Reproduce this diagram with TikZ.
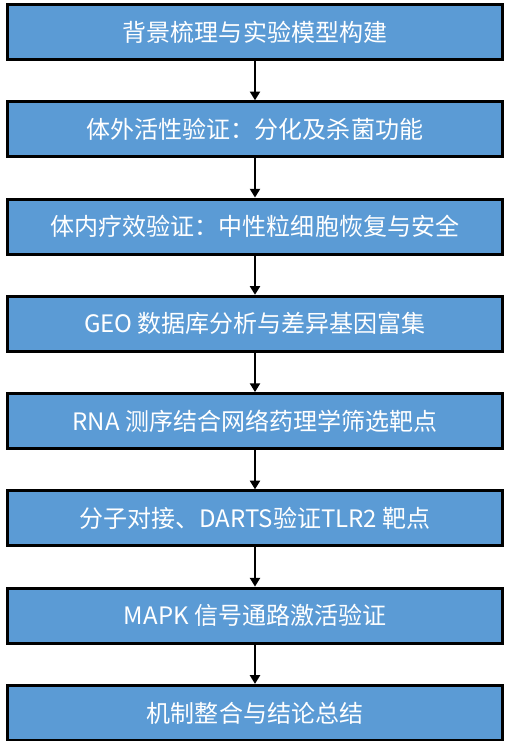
\documentclass[tikz,border=0pt]{standalone}
\usepackage{fontspec}
\newfontfamily\cjk{Noto Sans CJK SC}
\usetikzlibrary{positioning, arrows.meta}
\definecolor{stepblue}{HTML}{5B9BD5}

\begin{document}
\begin{tikzpicture}[
    stepbox/.style={draw=black, line width=2.25pt, fill=stepblue, text=white,
      minimum width=371pt, minimum height=41.25pt, inner sep=0pt,
      font=\cjk\fontsize{18pt}{20pt}\selectfont},
    node distance=29.45pt,
    arr/.style={-{Triangle[width=7.5pt,length=6.5pt]}, line width=1.5pt}
  ]
  \useasboundingbox (-191.25pt,24pt) rectangle (202.5pt,-531.75pt);

  \node[stepbox] (bg) at (0,0) {背景梳理与实验模型构建};
  \node[stepbox, below=of bg] (vitro) {体外活性验证：分化及杀菌功能};
  \node[stepbox, below=of vitro] (vivo) {体内疗效验证：中性粒细胞恢复与安全};
  \node[stepbox, below=of vivo] (geo) {GEO 数据库分析与差异基因富集};
  \node[stepbox, below=of geo] (rna) {RNA 测序结合网络药理学筛选靶点};
  \node[stepbox, below=of rna] (dock) {分子对接、DARTS验证TLR2 靶点};
  \node[stepbox, below=of dock] (mapk) {MAPK 信号通路激活验证};
  \node[stepbox, below=of mapk] (concl) {机制整合与结论总结};

  %\draw[arr] (bg) -- (concl);
  \draw[arr] (bg) -- (vitro);
  \draw[arr] (vitro) -- (vivo);
  \draw[arr] (vivo) -- (geo);
  \draw[arr] (geo) -- (rna);
  \draw[arr] (rna) -- (dock);
  \draw[arr] (dock) -- (mapk);
  \draw[arr] (mapk) -- (concl);

\end{tikzpicture}
\end{document}
